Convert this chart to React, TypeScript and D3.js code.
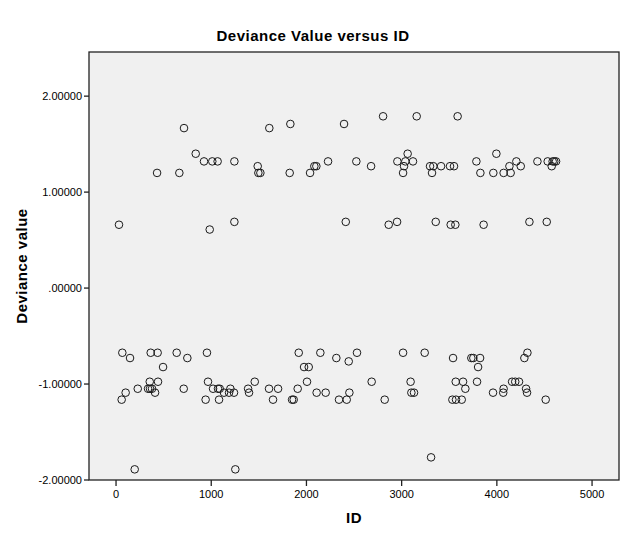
import React from "react";
import * as d3 from "d3";

const ids: number[] = [
  714, 837, 924, 1011, 1067, 1243, 431, 665, 1488, 1495, 1516, 1610, 1831, 1824, 2038, 2083, 2104, 2227, 2395,
  31, 984, 1243, 2413, 2805, 3158, 3588, 2524, 2679, 2955, 3063, 3039, 3025, 3119, 3015, 3298, 3333, 3414,
  3508, 3550, 3319, 3785, 3995, 3827, 3963, 4071, 4145, 4132, 4205, 4251, 4426, 4534, 4576, 4586, 4603, 4622,
  2864, 2952, 3358, 3515, 3564, 3861, 4342, 4524,
  66, 147, 364, 437, 494, 637, 749, 955, 59, 101, 228, 336, 357, 378, 354, 441, 410, 711, 966, 941,
  1019, 1071, 1089, 1082, 1134, 1187, 1239, 1201, 1387, 1397, 1457, 1607, 1702, 1649, 1849, 1866, 1908,
  1919, 1975, 2024, 2006, 2107, 2202, 2146, 2314, 2342, 2423, 2444, 2451, 196, 1253,
  2531, 3015, 3242, 3540, 3732, 3753, 3824, 3803, 4321, 4289, 2685, 3094, 3102, 3130, 2822, 3568, 3645,
  3669, 3792, 3533, 3571, 3631, 3960, 4071, 4067, 4160, 4193, 4233, 4307, 4317, 4513, 3309,
];

const deviance: number[] = [
  1.667, 1.4, 1.32, 1.32, 1.32, 1.32, 1.2, 1.2, 1.27, 1.2, 1.2, 1.667, 1.71, 1.2, 1.2, 1.27, 1.27, 1.32, 1.71,
  0.66, 0.61, 0.69, 0.69, 1.79, 1.79, 1.79, 1.32, 1.27, 1.32, 1.4, 1.32, 1.27, 1.32, 1.2, 1.27, 1.27, 1.27,
  1.27, 1.27, 1.2, 1.32, 1.4, 1.2, 1.2, 1.2, 1.2, 1.27, 1.32, 1.27, 1.32, 1.32, 1.27, 1.32, 1.32, 1.32,
  0.66, 0.69, 0.69, 0.66, 0.66, 0.66, 0.69, 0.69,
  -0.674, -0.729, -0.674, -0.674, -0.823, -0.674, -0.729, -0.674, -1.163, -1.09, -1.049, -1.049, -1.049, -1.049, -0.976, -0.976, -1.09, -1.049, -0.976, -1.163,
  -1.049, -1.049, -1.049, -1.163, -1.09, -1.09, -1.09, -1.049, -1.049, -1.09, -0.976, -1.049, -1.049, -1.163, -1.163, -1.163, -1.049,
  -0.674, -0.823, -0.823, -0.976, -1.09, -1.09, -0.674, -0.729, -1.163, -1.163, -0.764, -1.09, -1.889, -1.889,
  -0.674, -0.674, -0.674, -0.729, -0.729, -0.729, -0.729, -0.823, -0.674, -0.729, -0.976, -0.976, -1.09, -1.09, -1.163, -0.976, -0.976,
  -1.049, -0.976, -1.163, -1.163, -1.163, -1.09, -1.049, -1.09, -0.976, -0.976, -0.976, -1.049, -1.09, -1.163, -1.764,
];

const xTicks: number[] = [0, 1000, 2000, 3000, 4000, 5000];
const yTicks: number[] = [-2, -1, 0, 1, 2];
const yTickLabels: string[] = ["-2.00000", "-1.00000", ".00000", "1.00000", "2.00000"];

const title = "Deviance Value versus ID";
const xLabel = "ID";
const yLabel = "Deviance value";

const W = 626;
const H = 541;
const FONT = "'Liberation Sans', Arial, Helvetica, sans-serif";

export default function App() {
  const left = 89, right = 619, top = 52, bottom = 480;
  const x = d3.scaleLinear().domain([-284, 5283]).range([left, right]);
  const y = d3.scaleLinear().domain([-2, 2.46]).range([bottom, top]);
  const cx = (left + right) / 2;
  const cy = (top + bottom) / 2;

  return (
    <svg
      width={W}
      height={H}
      style={{ position: "absolute", left: 0, top: 0, background: "#fff" }}
      fontFamily={FONT}
    >
      <rect x={0} y={0} width={W} height={H} fill="#fff" />
      <text x={313} y={41} textAnchor="middle" fontSize={15} fontWeight="bold" letterSpacing={0.5} fill="#000">
        {title}
      </text>
      <rect x={left} y={top} width={right - left} height={bottom - top} fill="#f0f0f0" stroke="none" />
      {ids.map((id, i) => (
        <circle
          key={i}
          cx={x(id)}
          cy={y(deviance[i])}
          r={3.8}
          fill="none"
          stroke="#1a1a1a"
          strokeWidth={1}
        />
      ))}
      <rect x={left} y={top} width={right - left} height={bottom - top} fill="none" stroke="#222" strokeWidth={1.3} />
      {yTicks.map((t, i) => (
        <g key={"y" + t}>
          <line x1={left - 5} x2={left} y1={y(t)} y2={y(t)} stroke="#222" strokeWidth={1.3} />
          <text x={left - 7} y={y(t) + 4} textAnchor="end" fontSize={11} fill="#000">
            {yTickLabels[i]}
          </text>
        </g>
      ))}
      {xTicks.map((t) => (
        <g key={"x" + t}>
          <line x1={x(t)} x2={x(t)} y1={bottom} y2={bottom + 6} stroke="#222" strokeWidth={1.3} />
          <text x={x(t)} y={bottom + 18} textAnchor="middle" fontSize={11} fill="#000">
            {String(t)}
          </text>
        </g>
      ))}
      <text x={cx} y={523} textAnchor="middle" fontSize={15} fontWeight="bold" letterSpacing={0.5} fill="#000">
        {xLabel}
      </text>
      <text
        transform={`translate(27, ${cy}) rotate(-90)`}
        textAnchor="middle"
        fontSize={15}
        fontWeight="bold"
        letterSpacing={0.5}
        fill="#000"
      >
        {yLabel}
      </text>
    </svg>
  );
}
